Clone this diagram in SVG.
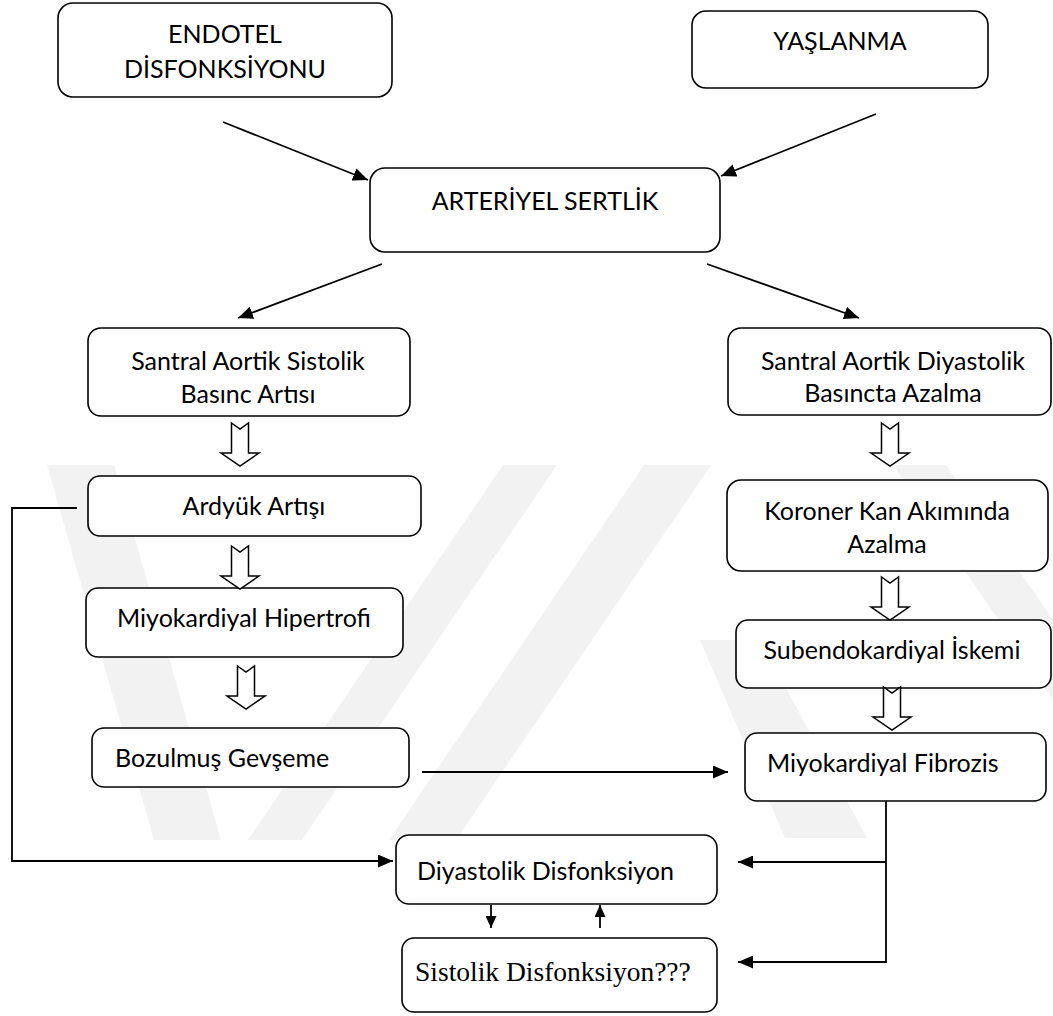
<svg xmlns="http://www.w3.org/2000/svg" width="1053" height="1016" viewBox="0 0 1053 1016">
  <defs>
    <style>
      .box { fill: #ffffff; stroke: #000000; stroke-width: 1.6; }
      .lbl { font-family: "Lato", "Open Sans", sans-serif; font-size: 25px; fill: #000000; }
      .mid { text-anchor: middle; }
      .serif { font-family: "Liberation Serif", "Times New Roman", serif; font-size: 27.5px; fill: #000000; }
      .wire { fill: none; stroke: #000000; stroke-width: 1.8; }
      .hollow { fill: #ffffff; stroke: #000000; stroke-width: 1.5; stroke-linejoin: miter; }
      .wm { fill: #f2f2f2; }
    </style>
    <marker id="ah" viewBox="0 0 15 13" refX="15" refY="6.5" markerWidth="15" markerHeight="13" markerUnits="userSpaceOnUse" orient="auto">
      <path d="M0,0 L15,6.5 L0,13 Z" fill="#000000"/>
    </marker>
    <marker id="ahs" viewBox="0 0 12 11" refX="12" refY="5.5" markerWidth="12" markerHeight="11" markerUnits="userSpaceOnUse" orient="auto">
      <path d="M0,0 L12,5.5 L0,11 Z" fill="#000000"/>
    </marker>
    <!-- notched block arrow pointing down, origin at top centre -->
    <path id="blockArrow" class="hollow" d="M-8.5,0 L0,6 L8.5,0 L8.5,30 L19,30 L0,43 L-19,30 L-8.5,30 Z"/>
  </defs>

  <rect width="1053" height="1016" fill="#ffffff"/>

  <!-- faint background mark -->
  <g id="watermark">
    <polygon class="wm" points="47,465 114,465 221,840 154,840"/>
    <polygon class="wm" points="503,465 557,465 302,840 248,840"/>
    <polygon class="wm" points="644,465 711,465 456,840 389,840"/>
    <polygon class="wm" points="893,465 946,465 1053,620 1053,700"/>
    <polygon class="wm" points="700,640 760,640 867,838 785,838"/>
  </g>

  <g id="nodes">
    <g id="endotel">
      <rect class="box" x="58" y="3" width="334" height="94" rx="15"/>
      <text class="lbl mid" x="225" y="43">ENDOTEL</text>
      <text class="lbl mid" x="225" y="78">DİSFONKSİYONU</text>
    </g>
    <g id="yaslanma">
      <rect class="box" x="692" y="11" width="296" height="77" rx="14"/>
      <text class="lbl mid" x="840" y="50">YAŞLANMA</text>
    </g>
    <g id="arteriyel">
      <rect class="box" x="370" y="168" width="350" height="84" rx="15"/>
      <text class="lbl mid" x="545" y="210">ARTERİYEL SERTLİK</text>
    </g>
    <g id="sistolik-basinc">
      <rect class="box" x="88" y="328" width="322" height="88" rx="13"/>
      <text class="lbl mid" x="248" y="370">Santral Aortik Sistolik</text>
      <text class="lbl mid" x="248" y="403">Basınc Artısı</text>
    </g>
    <g id="diyastolik-basinc">
      <rect class="box" x="728" y="328" width="323" height="87" rx="13"/>
      <text class="lbl mid" x="893" y="370">Santral Aortik Diyastolik</text>
      <text class="lbl mid" x="893" y="402">Basıncta Azalma</text>
    </g>
    <g id="ardyuk">
      <rect class="box" x="88" y="476" width="333" height="60" rx="12"/>
      <text class="lbl mid" x="254" y="515">Ardyük Artışı</text>
    </g>
    <g id="koroner">
      <rect class="box" x="727" y="480" width="321" height="91" rx="14"/>
      <text class="lbl mid" x="887" y="520">Koroner Kan Akımında</text>
      <text class="lbl mid" x="887" y="553">Azalma</text>
    </g>
    <g id="hipertrofi">
      <rect class="box" x="86" y="588" width="317" height="69" rx="12"/>
      <text class="lbl mid" x="244" y="627">Miyokardiyal Hipertrofi</text>
    </g>
    <g id="iskemi">
      <rect class="box" x="736" y="620" width="315" height="68" rx="12"/>
      <text class="lbl mid" x="892" y="659">Subendokardiyal İskemi</text>
    </g>
    <g id="gevseme">
      <rect class="box" x="92" y="728" width="317" height="59" rx="12"/>
      <text class="lbl" x="115" y="767">Bozulmuş Gevşeme</text>
    </g>
    <g id="fibrozis">
      <rect class="box" x="745" y="733" width="301" height="68" rx="12"/>
      <text class="lbl" x="767" y="772">Miyokardiyal Fibrozis</text>
    </g>
    <g id="diyastolik-disfonksiyon">
      <rect class="box" x="396" y="835" width="321" height="69" rx="13"/>
      <text class="lbl" x="417" y="880">Diyastolik Disfonksiyon</text>
    </g>
    <g id="sistolik-disfonksiyon">
      <rect class="box" x="402" y="938" width="315" height="74" rx="12"/>
      <text class="serif" x="415" y="981">Sistolik Disfonksiyon???</text>
    </g>
  </g>

  <g id="connectors">
    <!-- causes into arterial stiffness -->
    <line class="wire" x1="223" y1="122" x2="368" y2="180" marker-end="url(#ah)"/>
    <line class="wire" x1="876" y1="114" x2="721" y2="176" marker-end="url(#ah)"/>
    <!-- arterial stiffness branches -->
    <line class="wire" x1="382" y1="264" x2="238" y2="318" marker-end="url(#ah)"/>
    <line class="wire" x1="707" y1="264" x2="859" y2="318" marker-end="url(#ah)"/>
    <!-- block arrows down each column -->
    <use href="#blockArrow" x="240" y="423"/>
    <use href="#blockArrow" x="240" y="546"/>
    <use href="#blockArrow" x="246" y="666"/>
    <use href="#blockArrow" x="890" y="423"/>
    <use href="#blockArrow" x="890" y="577"/>
    <use href="#blockArrow" x="892" y="687"/>
    <!-- afterload feedback to diastolic dysfunction -->
    <polyline class="wire" points="77,508 12,508 12,861 393,861" marker-end="url(#ah)"/>
    <!-- impaired relaxation to fibrosis -->
    <line class="wire" x1="422" y1="772" x2="728" y2="772" marker-end="url(#ah)"/>
    <!-- fibrosis outputs -->
    <polyline class="wire" points="886,801 886,962 738,962" marker-end="url(#ah)"/>
    <line class="wire" x1="886" y1="862" x2="738" y2="862" marker-end="url(#ah)"/>
    <!-- diastolic / systolic link -->
    <line class="wire" x1="491" y1="905" x2="491" y2="928" marker-end="url(#ahs)"/>
    <line class="wire" x1="600" y1="928" x2="600" y2="905" marker-end="url(#ahs)"/>
  </g>
</svg>
